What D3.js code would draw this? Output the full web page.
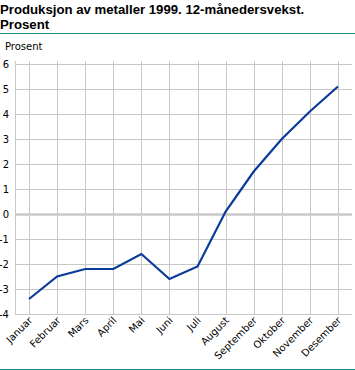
<!DOCTYPE html>
<html><head><meta charset="utf-8">
<script src="https://cdn.jsdelivr.net/npm/d3@7"></script>
<style>body{margin:0;background:#fff}svg{display:block}</style>
</head><body>
<script>
const titleLines = ["Produksjon av metaller 1999. 12-månedersvekst.", "Prosent"];
const yAxisTitle = "Prosent";
const months = ["Januar","Februar","Mars","April","Mai","Juni","Juli","August","September","Oktober","November","Desember"];
const values = [-3.4,-2.5,-2.2,-2.2,-1.6,-2.6,-2.1,0.1,1.7,3.0,4.1,5.1];
const yTicks = [-4,-3,-2,-1,0,1,2,3,4,5,6];

const W = 355, H = 370;
const svg = d3.select("body").append("svg").attr("width", W).attr("height", H);
const font = "'DejaVu Sans', sans-serif";

const x = d3.scaleBand().domain(months).range([15, 352]);
const y = d3.scaleLinear().domain([-4, 6]).range([314, 64]);
const cx = m => x(m) + x.bandwidth() / 2;

// title
svg.append("g").selectAll("text").data(titleLines).join("text")
  .attr("x", 0).attr("y", (d, i) => 14 + i * 15)
  .attr("font-family", "'Liberation Sans', Arial, sans-serif")
  .attr("font-weight", "bold").attr("font-size", 13.2).attr("fill", "#000")
  .text(d => d);
svg.append("line").attr("x1", 0).attr("x2", W).attr("y1", 33.5).attr("y2", 33.5)
  .attr("stroke", "#1b8d8d").attr("stroke-width", 1);
svg.append("line").attr("x1", 0).attr("x2", W).attr("y1", 369.5).attr("y2", 369.5)
  .attr("stroke", "#1b8d8d").attr("stroke-width", 1);

svg.append("text").attr("x", 5).attr("y", 50).attr("font-family", font)
  .attr("font-size", 10).attr("fill", "#000").text(yAxisTitle);

const grid = "#c8c8c8";
// horizontal gridlines
svg.append("g").selectAll("line").data(yTicks).join("line")
  .attr("x1", 15).attr("x2", 352)
  .attr("y1", d => Math.round(y(d)) + 0.5).attr("y2", d => Math.round(y(d)) + 0.5)
  .attr("stroke", grid).attr("stroke-width", d => d === 0 ? 2.5 : 1);
// vertical gridlines
svg.append("g").selectAll("line").data(months).join("line")
  .attr("x1", d => Math.round(cx(d)) + 0.5).attr("x2", d => Math.round(cx(d)) + 0.5)
  .attr("y1", 61).attr("y2", 314)
  .attr("stroke", grid).attr("stroke-width", 1);
// left axis line
svg.append("line").attr("x1", 15.5).attr("x2", 15.5).attr("y1", 61).attr("y2", 314)
  .attr("stroke", grid);

// y labels
svg.append("g").selectAll("text").data(yTicks).join("text")
  .attr("x", 9).attr("y", d => y(d) + 4).attr("text-anchor", "end")
  .attr("font-family", font).attr("font-size", 10).attr("fill", "#000")
  .text(d => d < 0 ? "-" + Math.abs(d) : d);

// x labels
svg.append("g").selectAll("text").data(months).join("text")
  .attr("transform", d => `translate(${cx(d) + 4},${321}) rotate(-45)`)
  .attr("text-anchor", "end")
  .attr("font-family", font).attr("font-size", 10).attr("fill", "#000")
  .text(d => d);

// line
const line = d3.line().x((d, i) => cx(months[i])).y(d => y(d));
svg.append("path").datum(values).attr("d", line)
  .attr("fill", "none").attr("stroke", "#0a3a9a").attr("stroke-width", 2.2)
  .attr("stroke-linejoin", "miter");
</script>
</body></html>
